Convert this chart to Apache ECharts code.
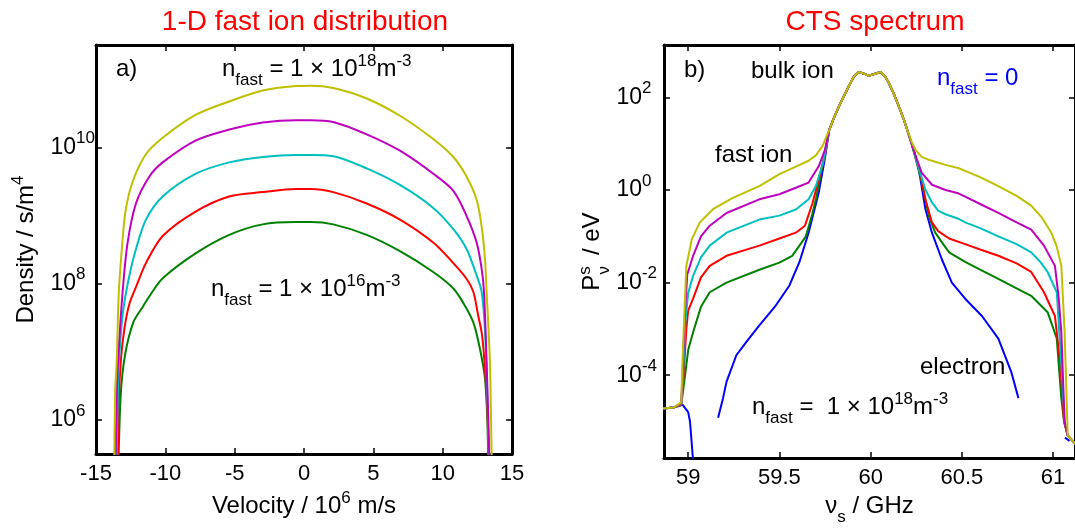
<!DOCTYPE html>
<html><head><meta charset="utf-8">
<script src="https://cdn.jsdelivr.net/npm/echarts@6/dist/echarts.min.js"></script>
<style>html,body{margin:0;padding:0;background:#fff}#c{width:1075px;height:531px}</style>
</head><body><div id="c"></div><script>
// ---------- tick values ----------
const velocityTicks = [-15, -10, -5, 0, 5, 10, 15];
const densityTicks = [1e6, 1e8, 1e10];
const freqTicks = [59, 59.5, 60, 60.5, 61];
const powerTicks = [1e-4, 1e-2, 1, 1e2];

// ---------- panel a: 1-D fast ion distribution [velocity (1e6 m/s), density (s/m^4)] ----------
const dens1e16 = [[-13.42,1e5],[-13.22,2.3e6],[-12.91,8.9e6],[-12.31,2.7e7],[-11.59,4.7e7],[-11.03,7.1e7],[-10.19,1.2e8],[-7.79,2.8e8],[-5.39,5.2e8],[-2.98,7.4e8],[-0.58,8.0e8],[0.5,8.0e8],[2.11,7.4e8],[4.52,5.2e8],[6.92,3.0e8],[9.32,1.48e8],[10.77,8.5e7],[11.49,5.2e7],[12.21,2.7e7],[12.69,1.1e7],[13.05,4.1e6],[13.22,1e6],[13.32,1e5]];
const dens3e16 = [[-13.45,1e5],[-13.35,2.0e6],[-13.2,7.9e6],[-12.95,2.2e7],[-12.6,5.0e7],[-12.12,8.9e7],[-11.4,2.0e8],[-10.19,5.0e8],[-7.79,1.15e9],[-5.39,1.9e9],[-2.98,2.2e9],[-0.58,2.45e9],[0.5,2.45e9],[2.11,2.2e9],[4.52,1.5e9],[6.92,8.7e8],[9.32,4.0e8],[10.77,2.0e8],[11.73,1.17e8],[12.21,7.6e7],[12.55,3.5e7],[12.85,1.7e7],[13.1,4.1e6],[13.25,1e6],[13.35,1e5]];
const dens1e17 = [[-13.55,1e5],[-13.42,2.5e6],[-13.3,1.0e7],[-13.1,3.2e7],[-12.85,7.1e7],[-12.5,1.6e8],[-12.12,3.2e8],[-11.4,8.7e8],[-10.19,1.9e9],[-7.79,4.1e9],[-5.39,6.0e9],[-2.98,7.2e9],[-0.58,7.7e9],[0.5,7.7e9],[2.11,7.4e9],[4.52,4.9e9],[6.92,2.8e9],[9.32,1.29e9],[10.77,6.3e8],[11.73,3.2e8],[12.45,1.32e8],[12.81,7.6e7],[13.05,2.1e7],[13.22,2.3e6],[13.38,1e5]];
const dens3e17 = [[-13.62,1e5],[-13.5,2.5e6],[-13.39,8.7e6],[-13.08,7.6e7],[-12.72,4.0e8],[-12.12,1.5e9],[-11.16,3.7e9],[-10.19,6.0e9],[-7.79,1.26e10],[-5.39,1.82e10],[-2.98,2.3e10],[-0.58,2.5e10],[0.5,2.5e10],[2.11,2.35e10],[4.52,1.55e10],[6.92,8.9e9],[9.32,4.1e9],[10.77,2.3e9],[11.73,9.8e8],[12.45,4.0e8],[12.81,1.66e8],[12.98,7.6e7],[13.17,6.9e6],[13.36,3.2e5],[13.44,1e5]];
const dens1e18 = [[-13.7,1e5],[-13.62,2.5e6],[-13.5,7.9e6],[-13.36,7.1e7],[-13.1,4.0e8],[-12.86,1.2e9],[-12.34,3.2e9],[-11.4,7.9e9],[-10.19,1.38e10],[-7.79,3.0e10],[-5.39,4.7e10],[-2.98,6.8e10],[-0.58,7.9e10],[0.5,8.0e10],[2.11,7.4e10],[4.52,5.2e10],[6.92,2.9e10],[9.32,1.32e10],[10.77,7.2e9],[11.73,3.7e9],[12.45,1.7e9],[12.81,6.9e8],[13.05,2.3e8],[13.17,7.6e7],[13.41,6.9e6],[13.53,3.2e5],[13.6,1e5]];

// ---------- panel b: CTS spectrum [frequency (GHz), power (eV)] ----------
const tailLeft = [[58.86,1.9e-5],[58.92,2.0e-5]];
const bulkPeak = [[59.773,20],[59.8,37],[59.827,65],[59.855,110],[59.88,174],[59.91,290],[59.936,355],[59.96,330],[59.99,295],[60.02,320],[60.055,355],[60.08,280],[60.1,204],[60.127,120],[60.154,65],[60.18,35],[60.2,20]];
const tailRight = [[61.08,5e-6],[61.125,3.2e-6]];
const specN0 = [[58.86,1.9e-5],[58.92,2.0e-5],[58.97,2.3e-5],[59.0,1.6e-5],[59.01,1.0e-5],[59.03,1e-6],[59.1,null],[59.164,1.2e-5],[59.191,3.2e-5],[59.21,7.2e-5],[59.264,2.7e-4],[59.318,5.2e-4],[59.39,1.2e-3],[59.48,3.2e-3],[59.555,8.7e-3],[59.61,0.028],[59.66,0.12],[59.716,0.9],[59.75,5]];
const specN0Right = [[60.225,10],[60.26,3.5],[60.3,0.39],[60.336,0.12],[60.39,0.032],[60.445,0.01],[60.518,4.5e-3],[60.61,1.9e-3],[60.7,6.2e-4],[60.77,1.2e-4],[60.81,3.2e-5],[60.9,null],[61.065,4.5e-6],[61.09,3.8e-6]];
const spec1e16Left = [[58.962,2.3e-5],[58.98,8e-5],[59.0,3.5e-4],[59.027,8.5e-4],[59.07,3e-3],[59.118,6.2e-3],[59.21,0.01],[59.39,0.019],[59.5,0.027],[59.57,0.038],[59.61,0.063],[59.645,0.1],[59.68,0.3],[59.7,0.63],[59.73,2.5]];
const spec1e16Right = [[60.225,10],[60.28,1.5],[60.318,0.28],[60.354,0.12],[60.39,0.075],[60.43,0.045],[60.518,0.028],[60.6,0.019],[60.7,0.012],[60.8,7.5e-3],[60.88,5.2e-3],[60.97,2.3e-3],[61.02,6.2e-4],[61.045,3.2e-5],[61.06,1e-5]];
const spec3e16Left = [[58.962,2.3e-5],[58.975,1.0e-4],[58.99,1.0e-3],[59.0,2.5e-3],[59.027,4.5e-3],[59.07,1.3e-2],[59.118,2.3e-2],[59.21,3.8e-2],[59.39,6.3e-2],[59.5,0.09],[59.59,0.12],[59.64,0.17],[59.68,0.5],[59.716,1.7],[59.75,6]];
const spec3e16Right = [[60.225,10],[60.27,2.5],[60.3,0.63],[60.336,0.2],[60.37,0.13],[60.43,0.09],[60.518,0.068],[60.6,0.052],[60.7,0.038],[60.8,0.026],[60.88,0.017],[60.95,6.2e-3],[61.01,1.9e-3],[61.04,1.7e-4],[61.06,1e-5]];
const spec1e17Left = [[58.962,2.4e-5],[58.972,1.0e-4],[58.985,1.5e-3],[59.0,6e-3],[59.027,1.4e-2],[59.07,3.5e-2],[59.118,6.3e-2],[59.21,0.12],[59.39,0.23],[59.5,0.28],[59.59,0.38],[59.66,0.63],[59.7,1.22],[59.74,4]];
const spec1e17Right = [[60.225,10],[60.26,3.3],[60.3,1.03],[60.336,0.54],[60.37,0.36],[60.41,0.3],[60.48,0.24],[60.518,0.2],[60.6,0.15],[60.7,0.1],[60.8,0.068],[60.88,0.045],[60.93,0.028],[60.97,0.017],[61.02,6.2e-3],[61.045,1.7e-4],[61.063,1e-5]];
const spec3e17Left = [[58.962,2.5e-5],[58.97,1.2e-4],[58.98,1.5e-3],[58.995,1.5e-2],[59.027,3.8e-2],[59.07,0.1],[59.118,0.17],[59.21,0.32],[59.39,0.63],[59.5,0.81],[59.59,1.12],[59.66,1.45],[59.716,3.3],[59.75,7.5]];
const spec3e17Right = [[60.225,10],[60.25,5],[60.28,2.35],[60.336,1.3],[60.41,1.0],[60.48,0.85],[60.518,0.72],[60.6,0.5],[60.7,0.32],[60.8,0.2],[60.88,0.14],[60.95,0.063],[61.01,0.023],[61.03,5e-3],[61.045,8.5e-4],[61.063,1e-5]];
const spec1e18Left = [[58.962,2.6e-5],[58.968,1.5e-4],[58.975,8.5e-4],[58.99,2.3e-2],[59.02,8.7e-2],[59.064,0.2],[59.136,0.385],[59.245,0.68],[59.39,1.22],[59.5,2.2],[59.59,3.2],[59.66,4.3],[59.7,5.6],[59.736,8.9]];
const spec1e18Right = [[60.225,11],[60.245,7.5],[60.28,5.2],[60.318,4.5],[60.41,3.5],[60.48,3.0],[60.518,2.6],[60.6,1.9],[60.7,1.22],[60.8,0.75],[60.88,0.46],[60.94,0.25],[60.99,0.12],[61.02,0.06],[61.045,0.023],[61.063,8.7e-4]];

// ---------- styling ----------
const FONT = '"Liberation Sans", Arial, Helvetica, sans-serif';
const C = {n0:'#0000ff', n1e16:'#008000', n3e16:'#ff0000', n1e17:'#00bfbf', n3e17:'#bf00bf', n1e18:'#bfbf00'};
const supBase = {fontSize: 17, fontFamily: FONT, color: '#000', lineHeight: 17, verticalAlign: 'bottom'};
const labelRich = {
  b: {fontSize: 23, fontFamily: FONT, color: '#000', lineHeight: 23, verticalAlign: 'bottom'},
  s1: Object.assign({}, supBase, {padding: [0, 9.5, 12, 0]}),
  s2: Object.assign({}, supBase, {padding: [0, 0, 12, 0]}),
  s3: Object.assign({}, supBase, {padding: [0, 4, 12, 0]})
};
const nameRich = {
  b: {fontSize: 24, fontFamily: FONT, color: '#000', lineHeight: 24, verticalAlign: 'bottom', padding: [0,0,8,0]},
  sup: {fontSize: 17, fontFamily: FONT, color: '#000', lineHeight: 17, verticalAlign: 'bottom', padding: [0,0,19,0]},
  sub: {fontSize: 17, fontFamily: FONT, color: '#000', lineHeight: 17, verticalAlign: 'bottom'},
  supS: {fontSize: 17, fontFamily: FONT, color: '#000', lineHeight: 17, verticalAlign: 'bottom', padding: [0,0,19,4.3], width: 0.01},
  subS: {fontSize: 17, fontFamily: FONT, color: '#000', lineHeight: 17, verticalAlign: 'bottom', padding: [0,8.6,0,0], width: 0.01}
};
function annRich(color) {
  return {
    b: {fontSize: 24, fontFamily: FONT, fill: color, lineHeight: 24, verticalAlign: 'bottom', padding: [0,0,8,0]},
    sup: {fontSize: 17, fontFamily: FONT, fill: color, lineHeight: 17, verticalAlign: 'bottom', padding: [0,0,19,0]},
    sub: {fontSize: 17, fontFamily: FONT, fill: color, lineHeight: 17, verticalAlign: 'bottom'}
  };
}
const axisLine = {show: true, onZero: false, lineStyle: {color: '#000', width: 3}};
const tickStyle = {color: '#000', width: 1.5};
const supFmt = v => {
  const e = String(Math.round(Math.log10(v)));
  const st = e.length === 1 ? 's1' : (e[0] === '-' ? 's3' : 's2');
  return '{b|10}{' + st + '|' + e + '}';
};

function xAx(grid, pos, opts) {
  return Object.assign({gridIndex: grid, type: 'value', position: pos, axisLine: axisLine,
    splitLine: {show: false}, axisLabel: {show: false}}, opts);
}
function yAx(grid, pos, opts) {
  return Object.assign({gridIndex: grid, type: 'log', logBase: 10, position: pos, axisLine: axisLine,
    splitLine: {show: false}, axisLabel: {show: false}}, opts);
}
const densMin = Math.pow(10, 5.5), densMax = Math.pow(10, 11.5);
const powMin = Math.pow(10, -5.79), powMax = Math.pow(10, 3.133);

function line(name, data, color, xi, yi, smooth) {
  return {name, type: 'line', xAxisIndex: xi, yAxisIndex: yi, data, showSymbol: false, symbol: 'none',
    smooth: smooth || false,
    lineStyle: {color, width: 2}, itemStyle: {color}, clip: true, connectNulls: false, animation: false};
}

const option = {
  backgroundColor: '#fff',
  animation: false,
  title: [
    {text: '1-D fast ion distribution', left: 305, top: 8, textAlign: 'center', padding: 0,
      textStyle: {color: '#ff0000', fontSize: 28, fontWeight: 'normal', fontFamily: FONT}},
    {text: 'CTS spectrum', left: 875, top: 8, textAlign: 'center', padding: 0,
      textStyle: {color: '#ff0000', fontSize: 28, fontWeight: 'normal', fontFamily: FONT}}
  ],
  grid: [
    {left: 96, top: 45, width: 416, height: 415},
    {left: 664, top: 45, width: 413, height: 415}
  ],
  xAxis: [
    xAx(0, 'bottom', {min: -15, max: 15, interval: 5,
      axisTick: {show: true, inside: true, length: 6, lineStyle: tickStyle},
      axisLabel: {show: true, fontSize: 22, fontFamily: FONT, color: '#000', margin: 9,
        customValues: velocityTicks},
      name: '{b|Velocity / 10}{sup|6}{b| m/s}', nameLocation: 'middle', nameGap: 30,
      nameTextStyle: {rich: nameRich}}),
    xAx(0, 'top', {min: -15, max: 15, interval: 5,
      axisTick: {show: true, inside: true, length: 6, lineStyle: tickStyle}}),
    xAx(1, 'bottom', {min: 58.8675, max: 61.12,
      axisTick: {show: true, inside: true, length: 6, lineStyle: tickStyle, customValues: freqTicks},
      axisLabel: {show: true, fontSize: 22, fontFamily: FONT, color: '#000', margin: 9, customValues: freqTicks},
      name: '{b|ν}{sub|s}{b| / GHz}', nameLocation: 'middle', nameGap: 30,
      nameTextStyle: {rich: nameRich}}),
    xAx(1, 'top', {min: 58.8675, max: 61.12,
      axisTick: {show: true, inside: true, length: 6, lineStyle: tickStyle, customValues: freqTicks}})
  ],
  yAxis: [
    yAx(0, 'left', {min: densMin, max: densMax,
      axisTick: {show: true, inside: true, length: 6, lineStyle: tickStyle, customValues: densityTicks},
      axisLabel: {show: true, margin: 1, customValues: densityTicks, formatter: supFmt, rich: labelRich},
      name: '{b|Density / s/m}{sup|4}', nameLocation: 'middle', nameRotate: 90, nameGap: 50,
      nameTextStyle: {rich: nameRich}}),
    yAx(0, 'right', {min: densMin, max: densMax,
      axisTick: {show: true, inside: true, length: 6, lineStyle: tickStyle, customValues: densityTicks}}),
    yAx(1, 'left', {min: powMin, max: powMax,
      axisTick: {show: true, inside: true, length: 6, lineStyle: tickStyle, customValues: powerTicks},
      axisLabel: {show: true, margin: 3, customValues: powerTicks, formatter: supFmt, rich: labelRich},
      name: '{b|P}{supS|s}{subS|ν}{b| / eV}', nameLocation: 'middle', nameRotate: 90, nameGap: 50,
      nameTextStyle: {rich: nameRich}}),
    yAx(1, 'right', {min: powMin, max: powMax,
      axisTick: {show: true, inside: true, length: 6, lineStyle: tickStyle, customValues: powerTicks}})
  ],
  series: [
    line('n_fast = 1e16 m^-3', dens1e16, C.n1e16, 0, 0, 0.3),
    line('n_fast = 3e16 m^-3', dens3e16, C.n3e16, 0, 0, 0.3),
    line('n_fast = 1e17 m^-3', dens1e17, C.n1e17, 0, 0, 0.3),
    line('n_fast = 3e17 m^-3', dens3e17, C.n3e17, 0, 0, 0.3),
    line('n_fast = 1e18 m^-3', dens1e18, C.n1e18, 0, 0, 0.3),
    line('CTS n_fast = 0', specN0.concat(bulkPeak, specN0Right), C.n0, 2, 2),
    line('CTS n_fast = 1e16', tailLeft.concat(spec1e16Left, bulkPeak, spec1e16Right, tailRight), C.n1e16, 2, 2),
    line('CTS n_fast = 3e16', tailLeft.concat(spec3e16Left, bulkPeak, spec3e16Right, tailRight), C.n3e16, 2, 2),
    line('CTS n_fast = 1e17', tailLeft.concat(spec1e17Left, bulkPeak, spec1e17Right, tailRight), C.n1e17, 2, 2),
    line('CTS n_fast = 3e17', tailLeft.concat(spec3e17Left, bulkPeak, spec3e17Right, tailRight), C.n3e17, 2, 2),
    line('CTS n_fast = 1e18', tailLeft.concat(spec1e18Left, bulkPeak, spec1e18Right, tailRight), C.n1e18, 2, 2)
  ],
  graphic: [
    {type: 'text', x: 116, y: 89, style: {text: '{b|a)}', rich: annRich('#000'), verticalAlign: 'bottom'}},
    {type: 'text', x: 222, y: 89, style: {text: '{b|n}{sub|fast}{b| = 1 × 10}{sup|18}{b|m}{sup|-3}', rich: annRich('#000'), verticalAlign: 'bottom'}},
    {type: 'text', x: 211, y: 309, style: {text: '{b|n}{sub|fast}{b| = 1 × 10}{sup|16}{b|m}{sup|-3}', rich: annRich('#000'), verticalAlign: 'bottom'}},
    {type: 'text', x: 684, y: 90, style: {text: '{b|b)}', rich: annRich('#000'), verticalAlign: 'bottom'}},
    {type: 'text', x: 751, y: 91, style: {text: '{b|bulk ion}', rich: annRich('#000'), verticalAlign: 'bottom'}},
    {type: 'text', x: 937, y: 98, style: {text: '{b|n}{sub|fast}{b| = 0}', rich: annRich('#0000ff'), verticalAlign: 'bottom'}},
    {type: 'text', x: 715, y: 175, style: {text: '{b|fast ion}', rich: annRich('#000'), verticalAlign: 'bottom'}},
    {type: 'text', x: 920, y: 387, style: {text: '{b|electron}', rich: annRich('#000'), verticalAlign: 'bottom'}},
    {type: 'text', x: 752, y: 427, style: {text: '{b|n}{sub|fast}{b| =  1 × 10}{sup|18}{b|m}{sup|-3}', rich: annRich('#000'), verticalAlign: 'bottom'}}
  ]
};
const chart = echarts.init(document.getElementById('c'), null, {renderer: 'canvas'});
chart.setOption(option);
</script></body></html>
